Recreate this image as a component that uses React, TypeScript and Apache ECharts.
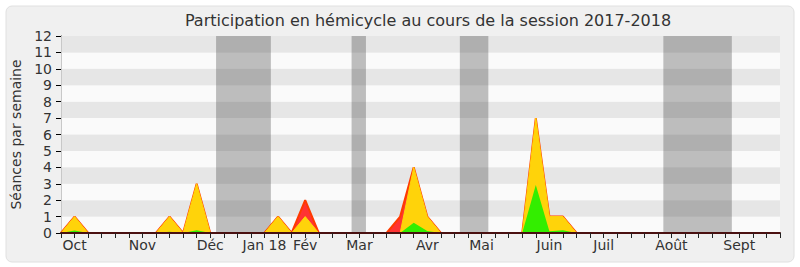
import React, { useEffect, useRef } from "react";
import * as echarts from "echarts";

const weeks: number[] = Array.from({ length: 54 }, (_, i) => i);

// total séances (red)
const seancesTotal: number[] = [
  0, 1, 0, 0, 0, 0, 0, 0, 1, 0, 3, 0, 0, 0, 0, 0, 1, 0, 2, 0,
  0, 0, 0, 0, 0, 1, 4, 1, 0, 0, 0, 0, 0, 0, 0, 7, 1, 1, 0, 0,
  0, 0, 0, 0, 0, 0, 0, 0, 0, 0, 0, 0, 0, 0,
];
// présences (yellow)
const presences: number[] = [
  0, 1, 0, 0, 0, 0, 0, 0, 1, 0, 3, 0, 0, 0, 0, 0, 1, 0, 1, 0,
  0, 0, 0, 0, 0, 0, 4, 1, 0, 0, 0, 0, 0, 0, 0, 7, 1, 1, 0, 0,
  0, 0, 0, 0, 0, 0, 0, 0, 0, 0, 0, 0, 0, 0,
];
// interventions (green)
const interventions: number[] = [
  0, 0.15, 0, 0, 0, 0, 0, 0, 0.08, 0, 0.16, 0, 0, 0, 0, 0, 0.06, 0, 0.06, 0,
  0, 0, 0, 0, 0, 0, 0.63, 0.12, 0, 0, 0, 0, 0, 0, 0, 2.93, 0.1, 0.16, 0, 0,
  0, 0, 0, 0, 0, 0, 0, 0, 0, 0, 0, 0, 0, 0,
];

const monthTickIdx: number[] = [1, 6, 11, 15, 18, 22, 27, 31, 36, 40, 45, 50];
const monthNames: string[] = ["Oct", "Nov", "Déc", "Jan 18", "Fév", "Mar", "Avr", "Mai", "Juin", "Juil", "Août", "Sept"];

const vacStart: number[] = [11.43, 21.42, 29.4, 44.4];
const vacEnd: number[] = [15.47, 22.48, 31.5, 49.45];

const FONT = "DejaVu Sans";

export default function App() {
  const ref = useRef<HTMLDivElement>(null);
  useEffect(() => {
    if (!ref.current) return;
    const chart = echarts.init(ref.current, undefined, { renderer: "svg" });
    const pairs = (arr: number[]) => weeks.map((w, i) => [w, arr[i]]);
    chart.setOption({
      animation: false,
      backgroundColor: "#ffffff",
      textStyle: { fontFamily: FONT },
      graphic: [
        {
          type: "rect",
          z: -100,
          shape: { x: 6, y: 6, width: 788, height: 256, r: 6 },
          style: { fill: "#f0f0f0", stroke: "#e0e0e0", lineWidth: 1 },
        },
        {
          type: "text",
          x: 428,
          y: 20,
          style: {
            text: "Participation en hémicycle au cours de la session 2017-2018",
            fontFamily: FONT,
            fontSize: 16,
            fill: "#333",
            align: "center",
            verticalAlign: "middle",
          },
        },
      ],
      grid: { left: 61, right: 20, top: 36, bottom: 34 },
      xAxis: [
        {
          type: "value",
          min: 0,
          max: 53,
          interval: 1,
          z: 5,
          axisLine: { show: true, lineStyle: { color: "#4a1010", width: 2 } },
          axisTick: { show: true, length: 5, lineStyle: { color: "#222" } },
          axisLabel: {
            fontFamily: FONT,
            fontSize: 14,
            color: "#333",
            margin: 5,
            showMinLabel: true,
            showMaxLabel: true,
            formatter: (v: number) => {
              const k = monthTickIdx.indexOf(Math.round(v));
              return k >= 0 ? monthNames[k] : "";
            },
          },
          splitLine: { show: false },
        },
        {
          type: "value",
          position: "top",
          min: 0,
          max: 53,
          interval: 1,
          axisLine: { show: false },
          axisTick: { show: true, inside: true, length: 2, lineStyle: { color: "#000" } },
          axisLabel: { show: false },
          splitLine: { show: false },
        },
      ],
      yAxis: [
        {
          type: "value",
          min: 0,
          max: 12,
          interval: 1,
          name: "Séances par semaine",
          nameLocation: "middle",
          nameGap: 37,
          nameTextStyle: { fontFamily: FONT, fontSize: 14, color: "#333" },
          axisLine: { show: true, lineStyle: { color: "#000" } },
          axisTick: { show: true, length: 5, lineStyle: { color: "#000" } },
          axisLabel: { fontFamily: FONT, fontSize: 14, color: "#333", margin: 9 },
          splitLine: { show: false },
          splitArea: { show: true, areaStyle: { color: ["#fafafa", "#e6e6e6"] } },
        },
        {
          type: "value",
          position: "right",
          min: 0,
          max: 12,
          interval: 1,
          axisLine: { show: true, lineStyle: { color: "#c8c8c8" } },
          axisTick: { show: false },
          axisLabel: { show: false },
          splitLine: { show: false },
        },
      ],
      series: [
        {
          name: "Séances",
          type: "line",
          data: pairs(seancesTotal),
          symbol: "none",
          lineStyle: { color: "#ff3a00", width: 2 },
          areaStyle: { color: "#ff3333", opacity: 1 },
          z: 2,
          markArea: {
            silent: true,
            itemStyle: { color: "rgba(50,50,50,0.3)" },
            data: vacStart.map((s, i) => [{ xAxis: s }, { xAxis: vacEnd[i] }]),
          },
        },
        {
          name: "Présences",
          type: "line",
          data: pairs(presences),
          symbol: "none",
          lineStyle: { color: "#ffd30a", width: 1 },
          areaStyle: { color: "#ffd30a", opacity: 1 },
          z: 3,
        },
        {
          name: "Interventions",
          type: "line",
          data: pairs(interventions),
          symbol: "none",
          lineStyle: { width: 0 },
          areaStyle: { color: "#33ee00", opacity: 1 },
          z: 4,
        },
      ],
    });
    return () => chart.dispose();
  }, []);
  return (
    <div
      ref={ref}
      style={{ position: "absolute", left: 0, top: 0, width: 800, height: 267 }}
    />
  );
}
